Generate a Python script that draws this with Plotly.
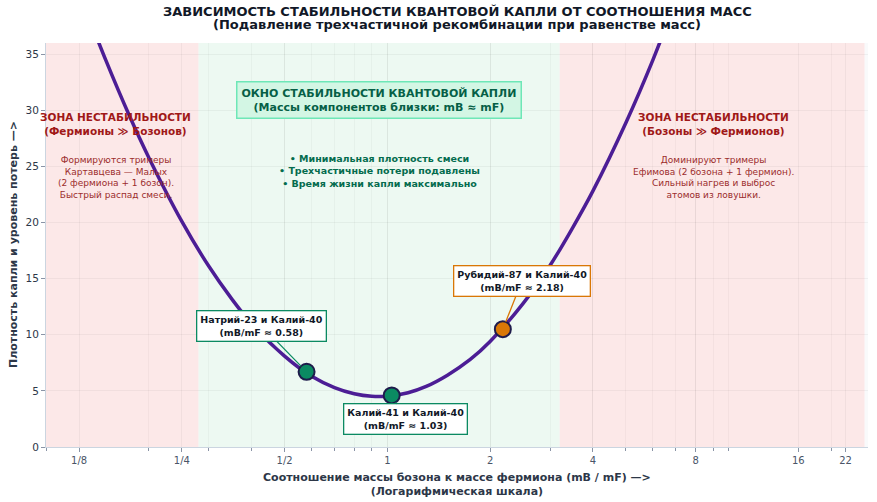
import math
import plotly.graph_objects as go

# ---- data ----
curve_ratio = [0.13, 0.15, 0.175, 0.2, 0.25, 0.3, 0.35, 0.4, 0.5, 0.6, 0.7, 0.8, 0.9,
               1.0, 1.15, 1.3, 1.5, 1.75, 2.0, 2.5, 3.0, 3.5, 4.0, 5.0, 6.0, 7.0]
curve_density = [39.2, 34.4, 29.6, 25.8, 20.1, 16.1, 13.2, 11.0, 8.1, 6.3, 5.3, 4.75, 4.52,
                 4.53, 4.84, 5.4, 6.4, 7.8, 9.4, 12.8, 16.2, 19.6, 22.8, 28.9, 34.5, 39.8]

mix_names = ["Натрий-23 и Калий-40", "Калий-41 и Калий-40", "Рубидий-87 и Калий-40"]
mix_ratio = [0.58, 1.03, 2.18]
mix_density = [6.7, 4.6, 10.5]
mix_colors = ["#0b8a62", "#0b8a62", "#d97706"]

tick_vals = [0.125, 0.25, 0.5, 1, 2, 4, 8, 16, 22]
tick_text = ["1/8", "1/4", "1/2", "1", "2", "4", "8", "16", "22"]

zone_left = (0.1, 0.28)
zone_mid = (0.28, 3.2)
zone_right = (3.2, 25)

FONT = "DejaVu Sans"
L10 = math.log10

fig = go.Figure()

fig.add_trace(go.Scatter(
    x=curve_ratio, y=curve_density, mode="lines",
    line=dict(color="#4c1d95", width=3.5, shape="spline", smoothing=1.0),
    hoverinfo="skip", showlegend=False))

fig.add_trace(go.Scatter(
    x=mix_ratio, y=mix_density, mode="markers",
    marker=dict(size=16, color=mix_colors, line=dict(color="#1e1b4b", width=2)),
    text=mix_names, showlegend=False))

# zones
for (z0, z1), col in [(zone_left, "#fce8e8"), (zone_mid, "#edf9f2"), (zone_right, "#fce8e8")]:
    fig.add_shape(type="rect", xref="x", yref="paper", x0=z0, x1=z1, y0=0, y1=1,
                  fillcolor=col, line=dict(width=0), layer="below")

red_title = "#a01818"
red_text = "#9b2c2c"
green_text = "#046c4e"

# zone texts
fig.add_annotation(x=L10(0.16), y=28.8, xref="x", yref="y", showarrow=False,
                   text="<b>ЗОНА НЕСТАБИЛЬНОСТИ<br>(Фермионы ≫ Бозонов)</b>",
                   font=dict(family=FONT, size=10.5, color=red_title))
fig.add_annotation(x=L10(0.16), y=24.0, xref="x", yref="y", showarrow=False,
                   text="Формируются тримеры<br>Картавцева — Малых<br>(2 фермиона + 1 бозон).<br>Быстрый распад смеси.",
                   font=dict(family=FONT, size=9, color=red_text))
fig.add_annotation(x=L10(9.0), y=28.8, xref="x", yref="y", showarrow=False,
                   text="<b>ЗОНА НЕСТАБИЛЬНОСТИ<br>(Бозоны ≫ Фермионов)</b>",
                   font=dict(family=FONT, size=10.5, color=red_title))
fig.add_annotation(x=L10(9.0), y=24.0, xref="x", yref="y", showarrow=False,
                   text="Доминируют тримеры<br>Ефимова (2 бозона + 1 фермион).<br>Сильный нагрев и выброс<br>атомов из ловушки.",
                   font=dict(family=FONT, size=9, color=red_text))
fig.add_annotation(x=L10(0.947), y=30.9, xref="x", yref="y", showarrow=False,
                   text="<b>ОКНО СТАБИЛЬНОСТИ КВАНТОВОЙ КАПЛИ<br>(Массы компонентов близки: mB ≈ mF)</b>",
                   font=dict(family=FONT, size=11, color="#065f46"),
                   bgcolor="#d3f6e4", bordercolor="#6ee7b7", borderwidth=1.5, borderpad=4)
fig.add_annotation(x=L10(0.947), y=24.6, xref="x", yref="y", showarrow=False,
                   text="<b>• Минимальная плотность смеси<br>• Трехчастичные потери подавлены<br>• Время жизни капли максимально</b>",
                   font=dict(family=FONT, size=9.5, color=green_text))

# point callouts
callout_offsets = [(-45, -46), (14, 24), (19, -48)]
for name, r, d, c, (ax, ay) in zip(mix_names, mix_ratio, mix_density, mix_colors, callout_offsets):
    fig.add_annotation(x=L10(r), y=d, xref="x", yref="y",
                       text=f"<b>{name}<br>(mB/mF ≈ {r:.2f})</b>",
                       showarrow=True, arrowhead=0, arrowwidth=1.3, arrowcolor=c,
                       ax=ax, ay=ay, standoff=8,
                       font=dict(family=FONT, size=9.5, color="#111827"),
                       bgcolor="white", bordercolor=c, borderwidth=1.3, borderpad=3)

# titles as annotations (fixed pixel placement)
title_font = dict(family=FONT, size=13, color="#111827")
fig.add_annotation(xref="paper", yref="paper", x=0.5, y=1, yshift=32, yanchor="middle",
                   showarrow=False,
                   text="<b>ЗАВИСИМОСТЬ СТАБИЛЬНОСТИ КВАНТОВОЙ КАПЛИ ОТ СООТНОШЕНИЯ МАСС</b>",
                   font=title_font)
fig.add_annotation(xref="paper", yref="paper", x=0.5, y=1, yshift=19, yanchor="middle",
                   showarrow=False,
                   text="<b>(Подавление трехчастичной рекомбинации при равенстве масс)</b>",
                   font=title_font)
axis_title_font = dict(family=FONT, size=11, color="#2d3748")
fig.add_annotation(xref="paper", yref="paper", x=0.5, y=0, yshift=-37, yanchor="middle",
                   showarrow=False,
                   text="<b>Соотношение массы бозона к массе фермиона (mB / mF) —><br>(Логарифмическая шкала)</b>",
                   font=axis_title_font)
fig.add_annotation(xref="paper", yref="paper", x=0, y=0.5, xshift=-33,
                   xanchor="center", yanchor="middle", showarrow=False,
                   textangle=-90, text="<b>Плотность капли и уровень потерь —></b>",
                   font=axis_title_font)

fig.update_layout(
    width=877, height=502,
    margin=dict(l=46, r=9, t=43, b=55, autoexpand=False),
    paper_bgcolor="white", plot_bgcolor="#f9fafb",
    font=dict(family=FONT, color="#4a5568"),
    showlegend=False,
)

fig.update_xaxes(
    type="log", range=[L10(0.1), L10(25.6)], automargin=False,
    tickmode="array", tickvals=tick_vals, ticktext=tick_text,
    ticks="outside", ticklen=4, tickcolor="#8a94a6",
    tickfont=dict(family=FONT, size=10, color="#4a5568"),
    showgrid=True, gridcolor="rgba(0,0,0,0.045)", gridwidth=1,
    minor=dict(dtick="D1", ticks="outside", ticklen=3, tickcolor="#8a94a6",
               showgrid=True, gridcolor="rgba(0,0,0,0.03)"),
    showline=True, linecolor="#cbd5e0", linewidth=1, zeroline=False,
)
fig.update_yaxes(
    range=[0, 36], tickvals=[0, 5, 10, 15, 20, 25, 30, 35], automargin=False,
    ticks="outside", ticklen=4, tickcolor="#8a94a6",
    tickfont=dict(family=FONT, size=10.5, color="#2d3748"),
    showgrid=True, gridcolor="rgba(0,0,0,0.045)",
    showline=True, linecolor="#cbd5e0", linewidth=1, zeroline=False,
)

fig.write_html("out.html",
               config={"displayModeBar": False},
               post_script="document.body.style.margin='0';document.body.style.padding='0';")
